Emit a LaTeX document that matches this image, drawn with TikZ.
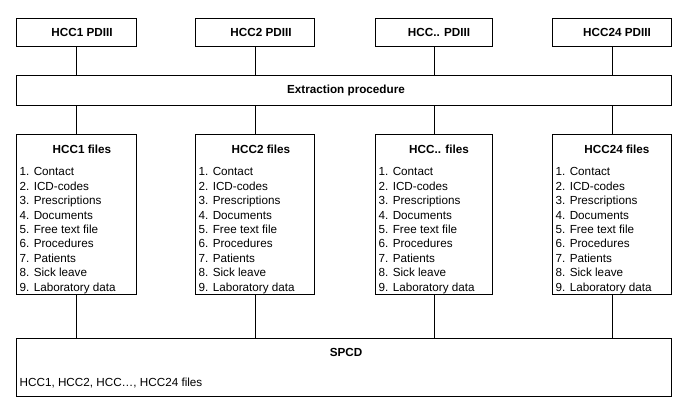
\documentclass[tikz,border=0pt]{standalone}
\usepackage{fontspec}
\setmainfont{Liberation Sans}
\usetikzlibrary{positioning}

\newcommand{\hcclist}{1. Contact\\2. ICD-codes\\3. Prescriptions\\4. Documents\\5. Free text file\\6. Procedures\\7. Patients\\8. Sick leave\\9. Laboratory data}

\begin{document}
\begin{tikzpicture}[x=1pt, y=-1pt]
		\tikzset{box/.style={draw, line width=0.9pt, inner sep=0pt, anchor=north west}}
		\tikzset{title/.style={font=\fontsize{11.7}{14}\selectfont\bfseries, inner sep=0pt}}
		\tikzset{listtext/.style={font=\fontsize{11.7}{14.4}\selectfont, align=left, inner sep=0pt, anchor=north west}}
		\tikzset{edge/.style={line width=0.9pt}}
		\useasboundingbox (0,0) rectangle (685,416);
					%pdiii boxes
					\node[box, minimum width=120pt, minimum height=28pt] (p1) at (16,18) {};
					\node[box, minimum width=119pt, minimum height=28pt] (p2) at (195,18) {};
					\node[box, minimum width=117pt, minimum height=28pt] (p3) at (375,18) {};
					\node[box, minimum width=119pt, minimum height=28pt] (p4) at (552,18) {};
					\node[title] (tp1) at (82,32) {HCC1 PDIII};
					\node[title] (tp2) at (261,32) {HCC2 PDIII};
					\node[title] (tp3) at (439,32) {HCC.. PDIII};
					\node[title] (tp4) at (617,32) {HCC24 PDIII};
					%extraction
					\node[box, minimum width=655pt, minimum height=30pt] (ext) at (16,75) {};
					\node[title] (text) at (346,90) {Extraction procedure};
					%file boxes
					\node[box, minimum width=120pt, minimum height=160pt] (f1) at (16,134) {};
					\node[box, minimum width=119pt, minimum height=160pt] (f2) at (195,134) {};
					\node[box, minimum width=117pt, minimum height=160pt] (f3) at (375,134) {};
					\node[box, minimum width=119pt, minimum height=160pt] (f4) at (552,134) {};
					\node[title] (tf1) at (82,149) {HCC1 files};
					\node[title] (tf2) at (261,149) {HCC2 files};
					\node[title] (tf3) at (439,149) {HCC.. files};
					\node[title] (tf4) at (617,149) {HCC24 files};
					\node[listtext] (l1) at (19.5,167.6) {\hcclist};
					\node[listtext] (l2) at (198.5,167.6) {\hcclist};
					\node[listtext] (l3) at (378.5,167.6) {\hcclist};
					\node[listtext] (l4) at (555.5,167.6) {\hcclist};
					%spcd
					\node[box, minimum width=655pt, minimum height=58pt] (spcd) at (16,338) {};
					\node[title] (tspcd) at (346,352) {SPCD};
					\node[listtext] (lspcd) at (19.5,377.6) {HCC1, HCC2, HCC…, HCC24 files};
					%edges
					\draw[edge] (p1.south) -- (p1.south |- ext.north);
					\draw[edge] (p2.south) -- (p2.south |- ext.north);
					\draw[edge] (p3.south) -- (p3.south |- ext.north);
					\draw[edge] (p4.south) -- (p4.south |- ext.north);
					\draw[edge] (ext.south -| f1.north) -- (f1.north);
					\draw[edge] (ext.south -| f2.north) -- (f2.north);
					\draw[edge] (ext.south -| f3.north) -- (f3.north);
					\draw[edge] (ext.south -| f4.north) -- (f4.north);
					\draw[edge] (f1.south) -- (f1.south |- spcd.north);
					\draw[edge] (f2.south) -- (f2.south |- spcd.north);
					\draw[edge] (f3.south) -- (f3.south |- spcd.north);
					\draw[edge] (f4.south) -- (f4.south |- spcd.north);
\end{tikzpicture}
\end{document}
